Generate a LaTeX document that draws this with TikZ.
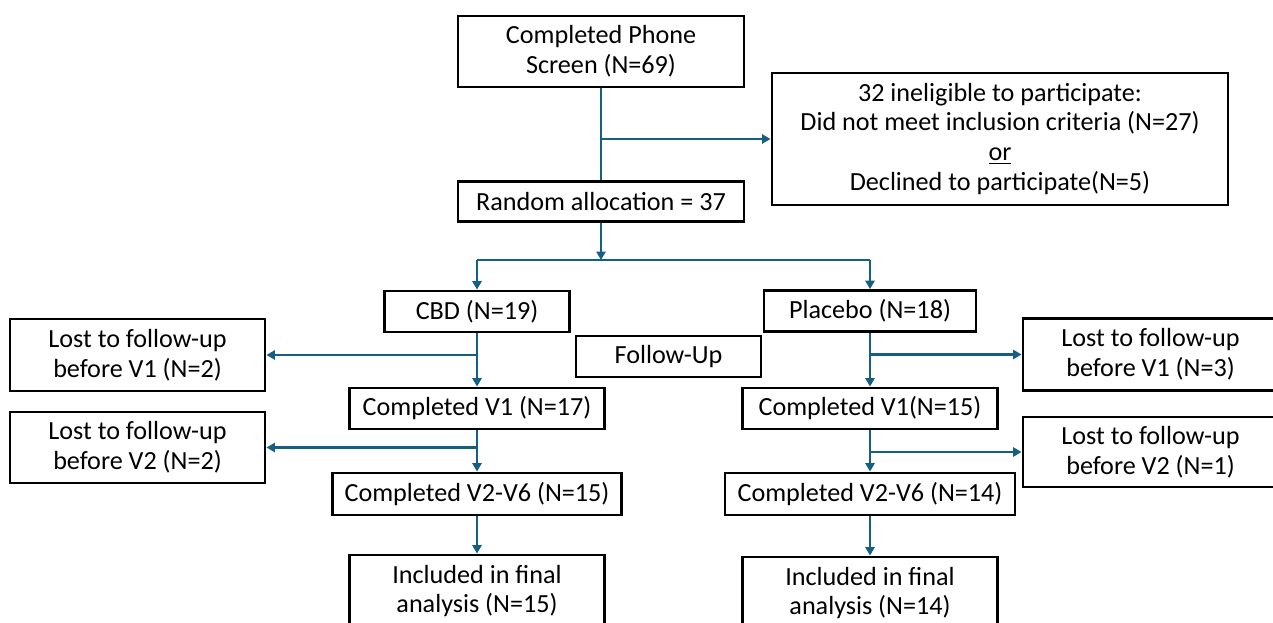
\documentclass[tikz,border=0pt]{standalone}
\usepackage{fontspec}
\setmainfont{Carlito}
\usetikzlibrary{arrows.meta}

\definecolor{flowblue}{HTML}{156082}

\tikzset{
    box/.style={draw=black, line width=2pt, align=center, inner sep=0pt,
        font=\fontsize{18.6}{21.3}\selectfont},
    flow/.style={draw=flowblue, line width=1.6pt},
    arr/.style={flow, -{Triangle[length=6pt, width=6.5pt]}},
}

\begin{document}
\begin{tikzpicture}[x=0.025cm, y=-0.025cm]

    % Page area of the chart.
    \useasboundingbox (0, 0) rectangle (1273, 623);
    \clip (0, 0) rectangle (1273, 623);

    % Coordinates for the centers of the boxes.
    \coordinate (P)  at ( 601,  51.5);
    \coordinate (I)  at (1000, 139);
    \coordinate (R)  at ( 601, 201.5);
    \coordinate (C0) at ( 477, 311.5);
    \coordinate (C1) at ( 477, 408.5);
    \coordinate (C2) at ( 477, 494);
    \coordinate (C3) at ( 477, 591);
    \coordinate (Q0) at ( 870, 311);
    \coordinate (Q1) at ( 870, 408.5);
    \coordinate (Q2) at ( 870, 494);
    \coordinate (Q3) at ( 870, 593);
    \coordinate (LA) at ( 137.5, 355);
    \coordinate (LB) at ( 137.5, 447.5);
    \coordinate (RA) at (1150.5, 354.5);
    \coordinate (RB) at (1150.5, 452);
    \coordinate (F)  at ( 668.5, 356.5);

    % Screening and allocation.
    \node[box, minimum width=7.15cm, minimum height=1.775cm] (phone) at (P)
        {Completed Phone\\Screen (N=69)};
    \node[box, minimum width=11.4cm, minimum height=3.3cm] (inelig) at (I)
        {32 ineligible to participate:\\Did not meet inclusion criteria (N=27)\\\underline{or}\\Declined to participate(N=5)};
    \node[box, minimum width=7.15cm, minimum height=1cm] (random) at (R)
        {Random allocation = 37};

    % The two arms.
    \node[box, minimum width=4.625cm, minimum height=1.025cm] (cbd) at (C0) {CBD (N=19)};
    \node[box, minimum width=5.3cm, minimum height=1.025cm] (placebo) at (Q0) {Placebo (N=18)};
    \node[box, minimum width=4.625cm, minimum height=1.025cm] (followup) at (F) {Follow-Up};

    \node[box, minimum width=6.375cm, minimum height=1.025cm] (cbdvone) at (C1) {Completed V1 (N=17)};
    \node[box, minimum width=7.225cm, minimum height=1.05cm] (cbdvsix) at (C2) {Completed V2-V6 (N=15)};
    \node[box, minimum width=6.375cm, minimum height=1.8cm] (cbdfinal) at (C3) {Included in final\\analysis (N=15)};

    \node[box, minimum width=6.375cm, minimum height=1.025cm] (plavone) at (Q1) {Completed V1(N=15)};
    \node[box, minimum width=7.25cm, minimum height=1.05cm] (plavsix) at (Q2) {Completed V2-V6 (N=14)};
    \node[box, minimum width=6.375cm, minimum height=1.8cm] (plafinal) at (Q3) {Included in final\\analysis (N=14)};

    % Losses to follow-up.
    \node[box, minimum width=6.375cm, minimum height=1.8cm] (cbdlostone) at (LA) {Lost to follow-up\\before V1 (N=2)};
    \node[box, minimum width=6.375cm, minimum height=1.775cm] (cbdlosttwo) at (LB) {Lost to follow-up\\before V2 (N=2)};
    \node[box, minimum width=6.375cm, minimum height=1.8cm] (plalostone) at (RA) {Lost to follow-up\\before V1 (N=3)};
    \node[box, minimum width=6.375cm, minimum height=1.75cm] (plalosttwo) at (RB) {Lost to follow-up\\before V2 (N=1)};

    % Split point below the allocation.
    \coordinate (split) at (601, 260);

    % Connectors at the top.
    \draw[flow] (phone) -- (random);
    \draw[arr] (phone.south |- inelig.west) -- (inelig.west);
    \draw[arr] (random) -- (split);
    \draw[flow] (cbd.north |- split) -- (placebo.north |- split);
    \draw[arr] (cbd.north |- split) -- (cbd.north);
    \draw[arr] (placebo.north |- split) -- (placebo.north);

    % CBD arm.
    \draw[arr] (cbd) -- (cbdvone);
    \draw[arr] (cbd.south |- cbdlostone.east) -- (cbdlostone.east);
    \draw[arr] (cbdvone) -- (cbdvsix);
    \draw[arr] (cbdvone.south |- cbdlosttwo.east) -- (cbdlosttwo.east);
    \draw[arr] (cbdvsix) -- (cbdfinal);

    % Placebo arm.
    \draw[arr] (placebo) -- (plavone);
    \draw[arr] (placebo.south |- plalostone.west) -- (plalostone.west);
    \draw[arr] (plavone) -- (plavsix);
    \draw[arr] (plavone.south |- plalosttwo.west) -- (plalosttwo.west);
    \draw[arr] (plavsix) -- (plafinal);
\end{tikzpicture}
\end{document}
